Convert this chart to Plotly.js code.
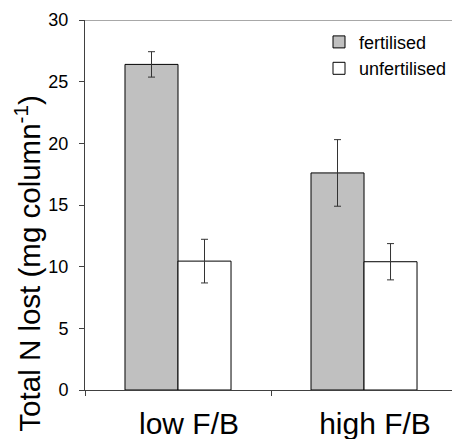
<!DOCTYPE html>
<html>
<head>
<meta charset="utf-8">
<script src="https://cdn.plot.ly/plotly-3.0.1.min.js"></script>
<style>html,body{margin:0;padding:0;background:#fff;overflow:hidden;}#chart{width:452px;height:439px;}</style>
</head>
<body>
<div id="chart"></div>
<script>
const categories = ["low F/B", "high F/B"];
const fertilised = [26.4, 17.6];
const fertilisedErr = [1.03, 2.7];
const unfertilised = [10.45, 10.4];
const unfertilisedErr = [1.77, 1.47];
const yTicks = [0, 5, 10, 15, 20, 25, 30];
const yTitle = "Total N lost (mg column<sup>-1</sup>)";

const font = "'Liberation Sans', Arial, sans-serif";
const errStyle = {type: "data", visible: true, thickness: 1, width: 3.5, color: "#333"};

const traces = [
  {type: "bar", name: "fertilised", x: categories, y: fertilised,
   error_y: Object.assign({array: fertilisedErr}, errStyle),
   marker: {color: "#c0c0c0", line: {color: "#000", width: 1}}},
  {type: "bar", name: "unfertilised", x: categories, y: unfertilised,
   error_y: Object.assign({array: unfertilisedErr}, errStyle),
   marker: {color: "#ffffff", line: {color: "#000", width: 1}}}
];

const layout = {
  width: 452, height: 439,
  margin: {l: 85, r: 0, t: 20, b: 49, autoexpand: false},
  paper_bgcolor: "#fff", plot_bgcolor: "#fff",
  font: {family: font, color: "#000"},
  barmode: "group", bargap: 0.43, bargroupgap: 0,
  showlegend: true,
  legend: {x: 1, y: 0.99, xanchor: "right", yanchor: "top",
           font: {size: 18, family: font}, bgcolor: "rgba(0,0,0,0)",
           tracegroupgap: 0, itemwidth: 30},
  xaxis: {type: "category", range: [-0.5, 1.473], showline: true, linecolor: "#404040", linewidth: 1,
          ticks: "outside", tickson: "boundaries", ticklen: 5, tickcolor: "#404040",
          tickfont: {size: 30, family: font}, ticklabelstandoff: 7, ticklabelshift: 11,
          showgrid: false, zeroline: false},
  yaxis: {range: [0, 30], tickvals: yTicks, showline: true, linecolor: "#404040", linewidth: 1,
          ticks: "outside", ticklen: 5, tickcolor: "#404040", showgrid: false, zeroline: false,
          tickfont: {size: 18, family: font}, ticklabelstandoff: 7},
  annotations: [{text: yTitle, xref: "paper", yref: "paper", x: -0.215, y: -0.119,
                 xanchor: "left", yanchor: "bottom", textangle: -90, showarrow: false,
                 font: {size: 29.5, family: font, color: "#000"}}],
  shapes: [{type: "line", xref: "paper", x0: 0, x1: 1, yref: "y", y0: 30, y1: 30,
            line: {color: "#a8a8a8", width: 2}}]
};

Plotly.newPlot("chart", traces, layout, {displayModeBar: false, staticPlot: true});
</script>
</body>
</html>
